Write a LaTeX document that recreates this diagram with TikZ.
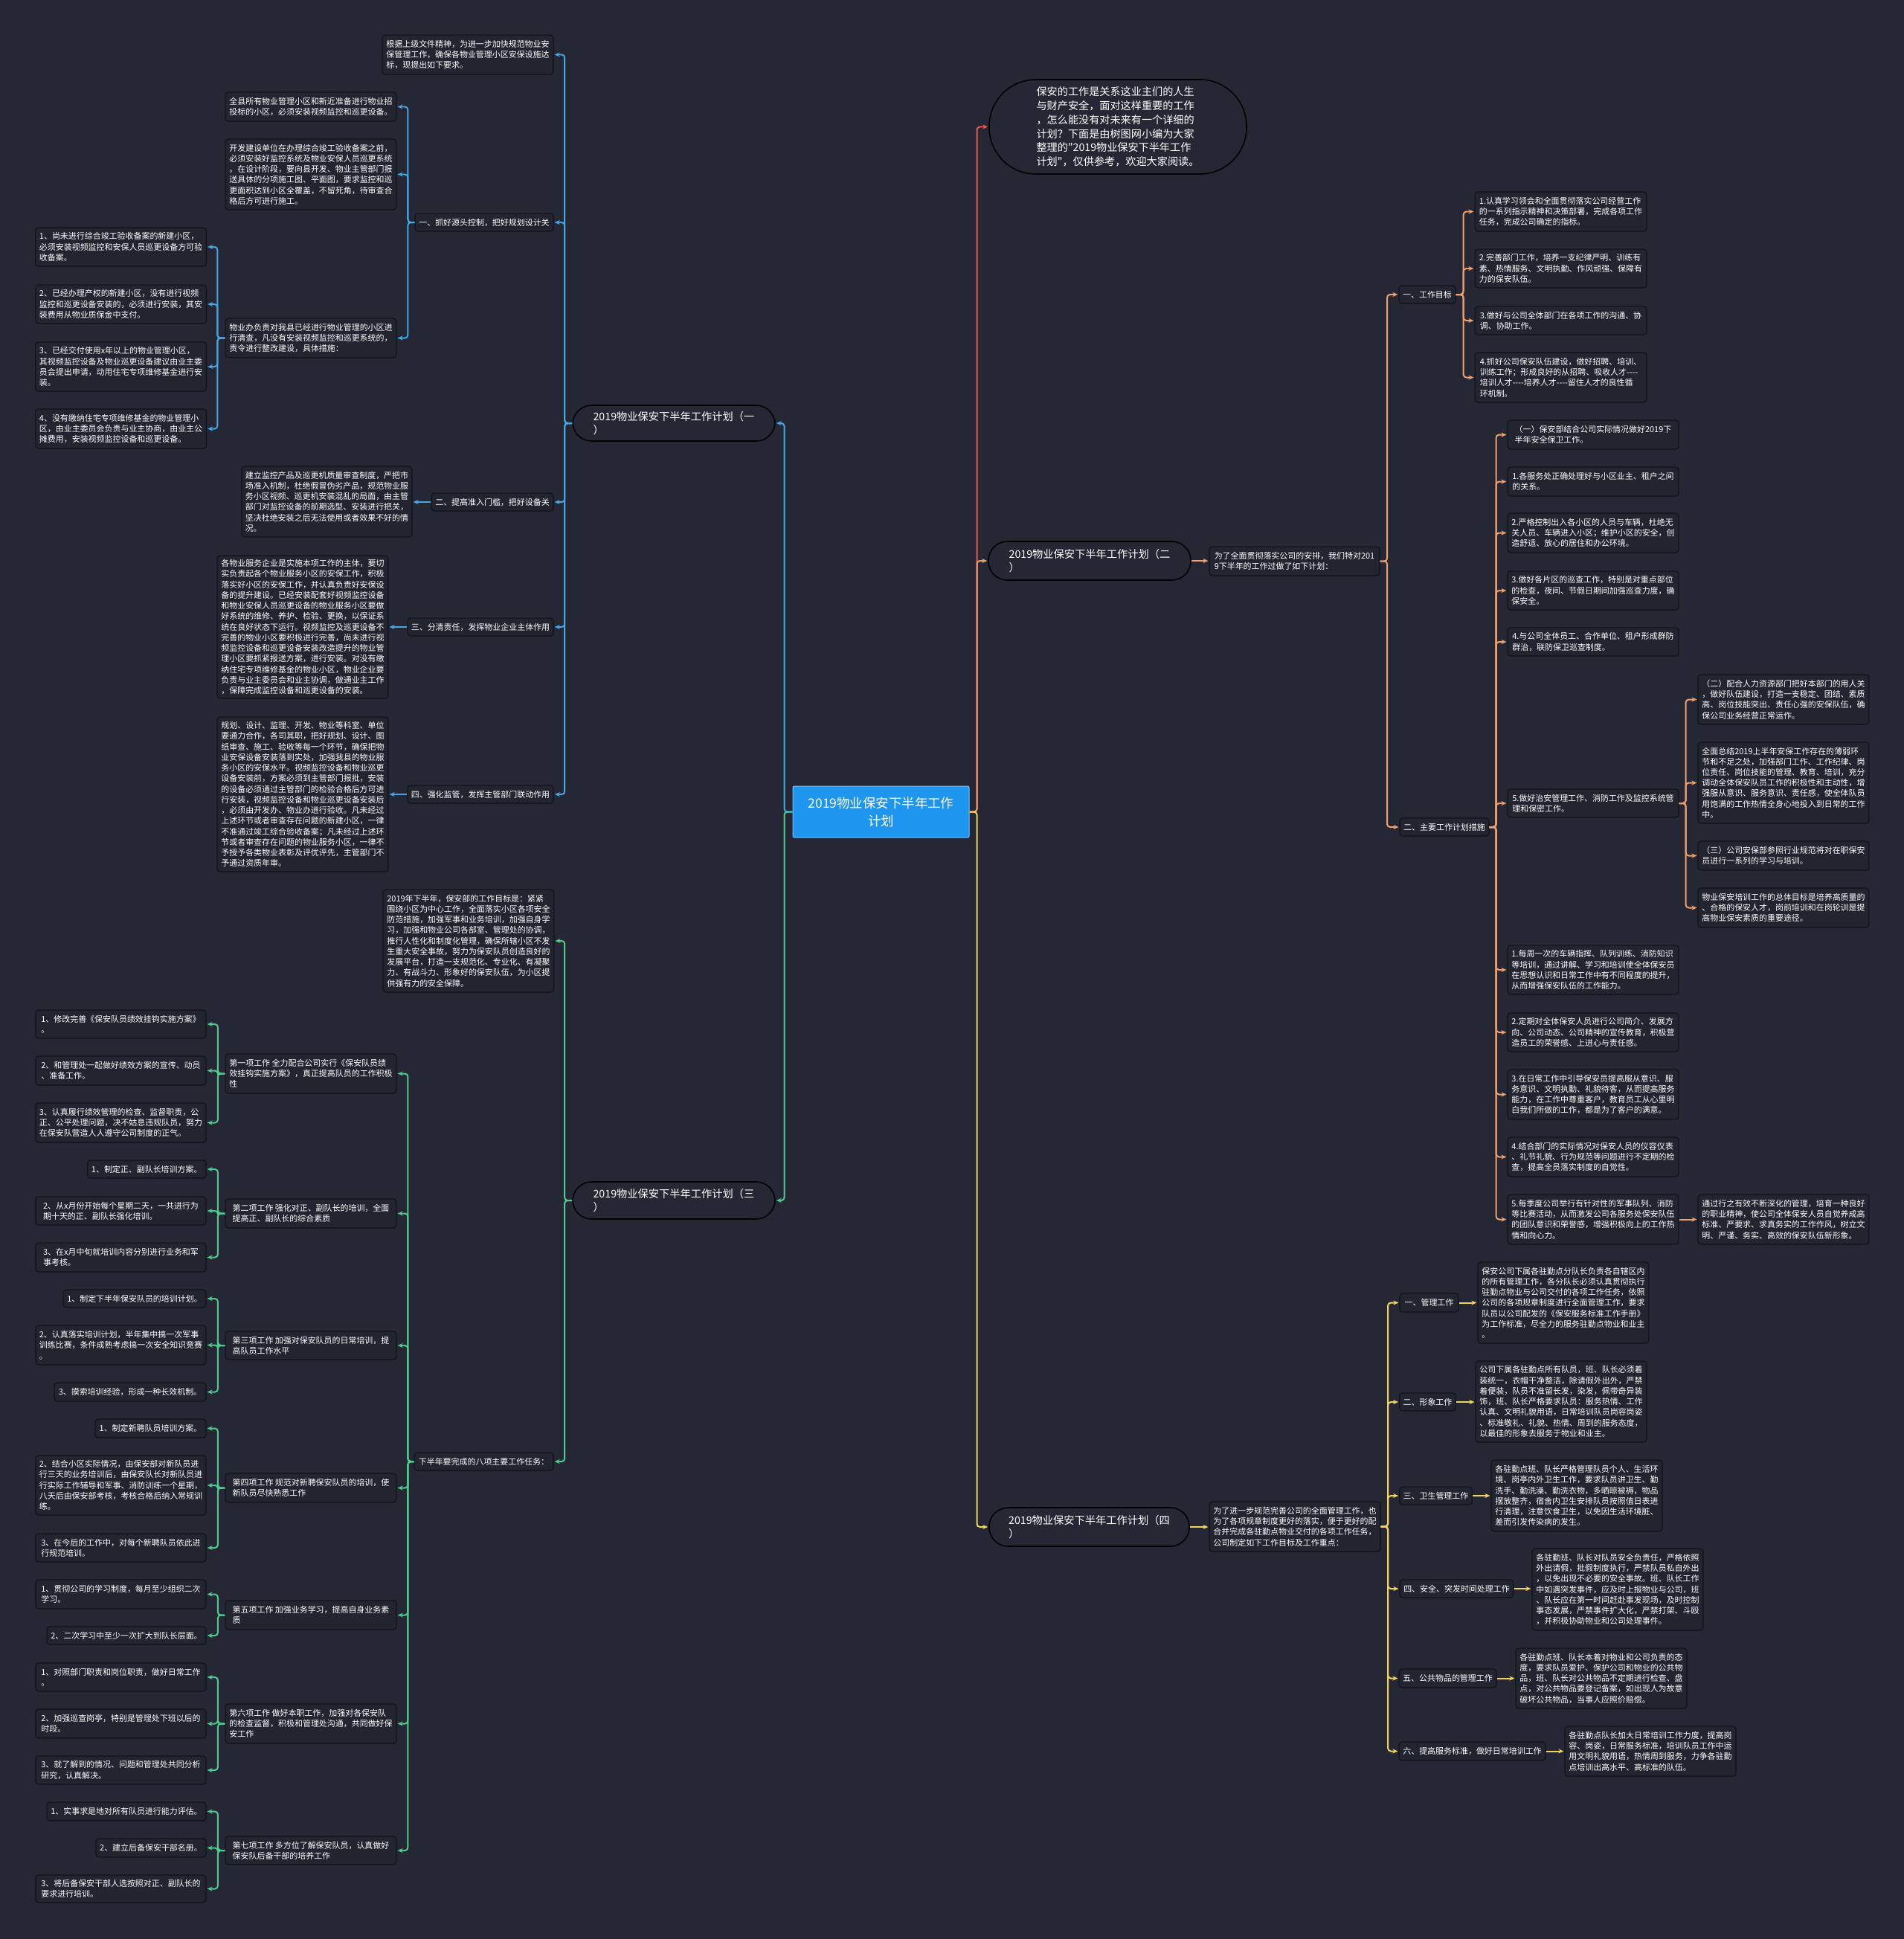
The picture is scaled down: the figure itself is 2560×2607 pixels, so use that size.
\documentclass[tikz,border=0pt]{standalone}
\usepackage{fontspec}
\setmainfont{Noto Sans CJK SC}[Ligatures=TeXOff]
\usetikzlibrary{arrows.meta}
\definecolor{bgc}{HTML}{252834}
\definecolor{boxfill}{HTML}{22252F}
\definecolor{boxline}{HTML}{111318}
\definecolor{cblue}{HTML}{45A8E6}
\definecolor{cgreen}{HTML}{4FCB8E}
\definecolor{corange}{HTML}{F0A06A}
\definecolor{cyellow}{HTML}{F2D35B}
\definecolor{cred}{HTML}{E8584F}
\definecolor{cmain}{HTML}{1E96F0}
\newcommand\bx[7][box]{%
  \pgfmathsetmacro\mmW{#5-#3}\pgfmathsetmacro\mmH{#6-#4}%
  \pgfmathsetmacro\mmX{(#3+#5)/2}\pgfmathsetmacro\mmY{(#4+#6)/2}%
  \node[#1,minimum width=\mmW bp,minimum height=\mmH bp] (#2) at (\mmX,\mmY) {#7};}
\begin{document}
\begin{tikzpicture}[x=1bp,y=-1bp,
  box/.style={draw=boxline,fill=boxfill,rounded corners=4pt,line width=1.2pt,text=white,
    font=\fontsize{11}{14.3}\selectfont,align=left,inner xsep=5pt,inner ysep=3pt},
  branch/.style={draw=black,fill=bgc,rounded corners=25.5pt,line width=1.6pt,text=white,
    font=\fontsize{14.3}{18.5}\selectfont,align=left,inner xsep=20pt,inner ysep=3pt},
  introbox/.style={branch,rounded corners=63pt,font=\fontsize{14.2}{18.8}\selectfont},
  mainbox/.style={draw=cmain!60!white,fill=cmain,rounded corners=2pt,line width=1pt,text=white,
    font=\fontsize{17.5}{24}\selectfont,align=center},
  conn/.style={line width=2pt,rounded corners=4pt,-{Stealth[length=7pt,width=6pt]},shorten >=1pt}]
\useasboundingbox (0,0) rectangle (2560,2607);
\fill[bgc] (-10,-10) rectangle (2570,2617);

% ---------- centre ----------
\bx[mainbox]{ctr}{1066}{1057}{1303}{1126}{2019物业保安下半年工作\\计划}

% ---------- branch 1 ----------
\bx[branch]{br1}{770}{545}{1042}{593}{2019物业保安下半年工作计划（一\\）}
\bx{T0}{514}{47}{744}{100}{根据上级文件精神，为进一步加快规范物业安\\保管理工作，确保各物业管理小区安保设施达\\标，现提出如下要求。}
\bx{A1}{558}{287}{744}{311}{一、抓好源头控制，把好规划设计关}
\bx{A1a}{303}{124}{533}{163}{全县所有物业管理小区和新近准备进行物业招\\投标的小区，必须安装视频监控和巡更设备。}
\bx{A1b}{303}{187}{533}{282}{开发建设单位在办理综合竣工验收备案之前，\\必须安装好监控系统及物业安保人员巡更系统\\。在设计阶段，要向县开发、物业主管部门报\\送具体的分项施工图、平面图，要求监控和巡\\更面积达到小区全覆盖，不留死角，待审查合\\格后方可进行施工。}
\bx{A1c}{303}{428}{533}{481}{物业办负责对我县已经进行物业管理的小区进\\行清查，凡没有安装视频监控和巡更系统的，\\责令进行整改建设，具体措施：}
\bx{L1}{47.6}{306}{277.5}{358}{1、尚未进行综合竣工验收备案的新建小区，\\必须安装视频监控和安保人员巡更设备方可验\\收备案。}
\bx{L2}{47.6}{383}{277.5}{435}{2、已经办理产权的新建小区，没有进行视频\\监控和巡更设备安装的，必须进行安装，其安\\装费用从物业质保金中支付。}
\bx{L3}{47.6}{460}{277.5}{526}{3、已经交付使用x年以上的物业管理小区，\\其视频监控设备及物业巡更设备建议由业主委\\员会提出申请，动用住宅专项维修基金进行安\\装。}
\bx{L4}{47.6}{550}{277.5}{603}{4、没有缴纳住宅专项维修基金的物业管理小\\区，由业主委员会负责与业主协商，由业主公\\摊费用，安装视频监控设备和巡更设备。}
\bx{A2}{580}{663}{744}{687}{二、提高准入门槛，把好设备关}
\bx{A2a}{325}{627}{554}{722}{建立监控产品及巡更机质量审查制度，严把市\\场准入机制，杜绝假冒伪劣产品，规范物业服\\务小区视频、巡更机安装混乱的局面，由主管\\部门对监控设备的前期选型、安装进行把关，\\坚决杜绝安装之后无法使用或者效果不好的情\\况。}
\bx{A3}{548}{831}{744}{855}{三、分清责任，发挥物业企业主体作用}
\bx{A3a}{292}{747}{522}{939}{各物业服务企业是实施本项工作的主体，要切\\实负责起各个物业服务小区的安保工作，积极\\落实好小区的安保工作，并认真负责好安保设\\备的提升建设。已经安装配套好视频监控设备\\和物业安保人员巡更设备的物业服务小区要做\\好系统的维修、养护、检验、更换，以保证系\\统在良好状态下运行。视频监控及巡更设备不\\完善的物业小区要积极进行完善，尚未进行视\\频监控设备和巡更设备安装改造提升的物业管\\理小区要抓紧报送方案，进行安装。对没有缴\\纳住宅专项维修基金的物业小区，物业企业要\\负责与业主委员会和业主协调，做通业主工作\\，保障完成监控设备和巡更设备的安装。}
\bx{A4}{548}{1056}{744}{1080}{四、强化监管，发挥主管部门联动作用}
\bx{A4a}{292}{964}{522}{1172}{规划、设计、监理、开发、物业等科室、单位\\要通力合作，各司其职，把好规划、设计、图\\纸审查、施工、验收等每一个环节，确保把物\\业安保设备安装落到实处，加强我县的物业服\\务小区的安保水平。视频监控设备和物业巡更\\设备安装前，方案必须到主管部门报批，安装\\的设备必须通过主管部门的检验合格后方可进\\行安装，视频监控设备和物业巡更设备安装后\\，必须由开发办、物业办进行验收。凡未经过\\上述环节或者审查存在问题的新建小区，一律\\不准通过竣工综合验收备案；凡未经过上述环\\节或者审查存在问题的物业服务小区，一律不\\予授予各类物业表彰及评优评先，主管部门不\\予通过资质年审。}

% ---------- branch 3 ----------
\bx[branch]{br3}{770}{1589}{1042}{1639}{2019物业保安下半年工作计划（三\\）}
\bx{B0}{515}{1196}{745}{1334}{2019年下半年，保安部的工作目标是：紧紧\\围绕小区为中心工作，全面落实小区各项安全\\防范措施，加强军事和业务培训，加强自身学\\习，加强和物业公司各部室、管理处的协调，\\推行人性化和制度化管理，确保所辖小区不发\\生重大安全事故，努力为保安队员创造良好的\\发展平台，打造一支规范化、专业化、有凝聚\\力、有战斗力、形象好的保安队伍，为小区提\\供强有力的安全保障。}
\bx{BB}{557}{1953}{744}{1977}{下半年要完成的八项主要工作任务：}
\bx{B1}{303}{1417}{533}{1470}{第一项工作 全力配合公司实行《保安队员绩\\效挂钩实施方案》，真正提高队员的工作积极\\性}
\bx{B1a}{48}{1358}{277}{1396}{1、修改完善《保安队员绩效挂钩实施方案》\\。}
\bx{B1b}{48}{1420}{277}{1459}{2、和管理处一起做好绩效方案的宣传、动员\\、准备工作。}
\bx{B1c}{48}{1483}{277}{1536}{3、认真履行绩效管理的检查、监督职责，公\\正、公平处理问题，决不姑息违规队员，努力\\在保安队营造人人遵守公司制度的正气。}
\bx{B2}{303}{1612}{533}{1651}{第二项工作 强化对正、副队长的培训，全面\\提高正、副队长的综合素质}
\bx{B2a}{117.5}{1560}{277}{1584}{1、制定正、副队长培训方案。}
\bx{B2b}{48}{1609}{277}{1647}{2、从x月份开始每个星期二天，一共进行为\\期十天的正、副队长强化培训。}
\bx{B2c}{48}{1671}{277}{1710}{3、在x月中旬就培训内容分别进行业务和军\\事考核。}
\bx{B3}{303}{1790}{533}{1828}{第三项工作 加强对保安队员的日常培训，提\\高队员工作水平}
\bx{B3a}{85}{1734}{277}{1758}{1、制定下半年保安队员的培训计划。}
\bx{B3b}{48}{1782}{277}{1835}{2、认真落实培训计划，半年集中搞一次军事\\训练比赛，条件成熟考虑搞一次安全知识竞赛\\。}
\bx{B3c}{73}{1859}{277}{1884}{3、摸索培训经验，形成一种长效机制。}
\bx{B4}{303}{1981}{533}{2020}{第四项工作 规范对新聘保安队员的培训，使\\新队员尽快熟悉工作}
\bx{B4a}{128}{1908}{277}{1933}{1、制定新聘队员培训方案。}
\bx{B4b}{48}{1957}{277}{2037}{2、结合小区实际情况，由保安部对新队员进\\行三天的业务培训后，由保安队长对新队员进\\行实际工作辅导和军事、消防训练一个星期，\\八天后由保安部考核，考核合格后纳入常规训\\练。}
\bx{B4c}{48}{2062}{277}{2100}{3、在今后的工作中，对每个新聘队员依此进\\行规范培训。}
\bx{B5}{303}{2152}{533}{2191}{第五项工作 加强业务学习，提高自身业务素\\质}
\bx{B5a}{48}{2124}{277}{2163}{1、贯彻公司的学习制度，每月至少组织二次\\学习。}
\bx{B5b}{63}{2187}{277}{2211}{2、二次学习中至少一次扩大到队长层面。}
\bx{B6}{303}{2291}{533}{2344}{第六项工作 做好本职工作，加强对各保安队\\的检查监督，积极和管理处沟通，共同做好保\\安工作}
\bx{B6a}{48}{2236}{277}{2274}{1、对照部门职责和岗位职责，做好日常工作\\。}
\bx{B6b}{48}{2298}{277}{2337}{2、加强巡查岗亭，特别是管理处下班以后的\\时段。}
\bx{B6c}{48}{2361}{277}{2399}{3、就了解到的情况、问题和管理处共同分析\\研究，认真解决。}
\bx{B7}{303}{2469}{533}{2507}{第七项工作 多方位了解保安队员，认真做好\\保安队后备干部的培养工作}
\bx{B7a}{63}{2423}{277}{2448}{1、实事求是地对所有队员进行能力评估。}
\bx{B7b}{129}{2472}{277}{2497}{2、建立后备保安干部名册。}
\bx{B7c}{48}{2521}{277}{2558}{3、将后备保安干部人选按照对正、副队长的\\要求进行培训。}

% ---------- intro ----------
\bx[introbox]{intro}{1330}{107}{1676}{234}{保安的工作是关系这业主们的人生\\与财产安全，面对这样重要的工作\\，怎么能没有对未来有一个详细的\\计划？下面是由树图网小编为大家\\整理的"2019物业保安下半年工作\\计划"，仅供参考，欢迎大家阅读。}

% ---------- branch 2 ----------
\bx[branch]{br2}{1329}{728}{1601}{780}{2019物业保安下半年工作计划（二\\）}
\bx{C0}{1626}{735}{1855}{774}{为了全面贯彻落实公司的安排，我们特对201\\9下半年的工作过做了如下计划：}
\bx{C1}{1881}{384}{1957}{408}{一、工作目标}
\bx{C1a}{1983}{258}{2214}{311}{1.认真学习领会和全面贯彻落实公司经营工作\\的一系列指示精神和决策部署，完成各项工作\\任务，完成公司确定的指标。}
\bx{C1b}{1983}{335}{2214}{387}{2.完善部门工作，培养一支纪律严明、训练有\\素、热情服务、文明执勤、作风顽强、保障有\\力的保安队伍。}
\bx{C1c}{1983}{412}{2214}{450}{3.做好与公司全体部门在各项工作的沟通、协\\调、协助工作。}
\bx{C1d}{1983}{474}{2214}{541}{4.抓好公司保安队伍建设，做好招聘、培训、\\训练工作；形成良好的从招聘、吸收人才-{}-{}-{}-\\培训人才-{}-{}-{}-培养人才-{}-{}-{}-留住人才的良性循\\环机制。}
\bx{C2}{1882}{1100}{2002}{1124}{二、主要工作计划措施}
\bx{C2a}{2027}{565}{2257}{604}{（一）保安部结合公司实际情况做好2019下\\半年安全保卫工作。}
\bx{C2b}{2027}{628}{2257}{667}{1.各服务处正确处理好与小区业主、租户之间\\的关系。}
\bx{C2c}{2027}{690}{2257}{743}{2.严格控制出入各小区的人员与车辆，杜绝无\\关人员、车辆进入小区；维护小区的安全，创\\造舒适、放心的居住和办公环境。}
\bx{C2d}{2027}{768}{2257}{820}{3.做好各片区的巡查工作，特别是对重点部位\\的检查，夜间、节假日期间加强巡查力度，确\\保安全。}
\bx{C2e}{2027}{844}{2257}{882}{4.与公司全体员工、合作单位、租户形成群防\\群治，联防保卫巡查制度。}
\bx{C2f}{2027}{1061}{2257}{1099}{5.做好治安管理工作、消防工作及监控系统管\\理和保密工作。}
\bx{C2f1}{2283}{907}{2513}{974}{（二）配合人力资源部门把好本部门的用人关\\，做好队伍建设，打造一支稳定、团结、素质\\高、岗位技能突出、责任心强的安保队伍，确\\保公司业务经营正常运作。}
\bx{C2f2}{2283}{998}{2513}{1107}{全面总结2019上半年安保工作存在的薄弱环\\节和不足之处，加强部门工作、工作纪律、岗\\位责任、岗位技能的管理、教育、培训，充分\\调动全体保安队员工作的积极性和主动性，增\\强服从意识、服务意识、责任感，使全体队员\\用饱满的工作热情全身心地投入到日常的工作\\中。}
\bx{C2f3}{2283}{1131}{2513}{1170}{（三）公司安保部参照行业规范将对在职保安\\员进行一系列的学习与培训。}
\bx{C2f4}{2283}{1194}{2513}{1247}{物业保安培训工作的总体目标是培养高质量的\\、合格的保安人才，岗前培训和在岗轮训是提\\高物业保安素质的重要途径。}
\bx{C2g}{2027}{1271}{2257}{1337}{1.每周一次的车辆指挥、队列训练、消防知识\\等培训，通过讲解、学习和培训使全体保安员\\在思想认识和日常工作中有不同程度的提升，\\从而增强保安队伍的工作能力。}
\bx{C2h}{2027}{1362}{2257}{1414}{2.定期对全体保安人员进行公司简介、发展方\\向、公司动态、公司精神的宣传教育，积极营\\造员工的荣誉感、上进心与责任感。}
\bx{C2i}{2027}{1438}{2257}{1505}{3.在日常工作中引导保安员提高服从意识、服\\务意识、文明执勤、礼貌待客，从而提高服务\\能力，在工作中尊重客户，教育员工从心里明\\白我们所做的工作，都是为了客户的满意。}
\bx{C2j}{2027}{1529}{2257}{1582}{4.结合部门的实际情况对保安人员的仪容仪表\\、礼节礼貌、行为规范等问题进行不定期的检\\查，提高全员落实制度的自觉性。}
\bx{C2k}{2027}{1606}{2257}{1673}{5.每季度公司举行有针对性的军事队列、消防\\等比赛活动，从而激发公司各服务处保安队伍\\的团队意识和荣誉感，增强积极向上的工作热\\情和向心力。}
\bx{C2k1}{2283}{1606}{2513}{1673}{通过行之有效不断深化的管理，培育一种良好\\的职业精神，使公司全体保安人员自觉养成高\\标准、严要求、求真务实的工作作风，树立文\\明、严谨、务实、高效的保安队伍新形象。}

% ---------- branch 4 ----------
\bx[branch]{br4}{1330}{2027}{1599}{2079}{2019物业保安下半年工作计划（四\\）}
\bx{D0}{1626}{2019}{1856}{2086}{为了进一步规范完善公司的全面管理工作，也\\为了各项规章制度更好的落实，便于更好的配\\合并完成各驻勤点物业交付的各项工作任务，\\公司制定如下工作目标及工作重点：}
\bx{D1}{1882}{1739}{1961}{1764}{一、管理工作}
\bx{D1a}{1987}{1697}{2217}{1806}{保安公司下属各驻勤点分队长负责各自辖区内\\的所有管理工作，各分队长必须认真贯彻执行\\驻勤点物业与公司交付的各项工作任务，依照\\公司的各项规章制度进行全面管理工作，要求\\队员以公司配发的《保安服务标准工作手册》\\为工作标准，尽全力的服务驻勤点物业和业主\\。}
\bx{D2}{1882}{1873}{1957}{1897}{二、形象工作}
\bx{D2a}{1984}{1830}{2214}{1939}{公司下属各驻勤点所有队员，班、队长必须着\\装统一，衣帽干净整洁，除请假外出外，严禁\\着便装，队员不准留长发，染发，佩带奇异装\\饰，班、队长严格要求队员：服务热情、工作\\认真、文明礼貌用语，日常培训队员岗容岗姿\\、标准敬礼、礼貌、热情、周到的服务态度，\\以最佳的形象去服务于物业和业主。}
\bx{D3}{1882}{1999}{1979}{2023}{三、卫生管理工作}
\bx{D3a}{2005}{1963}{2235}{2059}{各驻勤点班、队长严格管理队员个人、生活环\\境、岗亭内外卫生工作，要求队员讲卫生、勤\\洗手、勤洗澡、勤洗衣物，多晒晾被褥，物品\\摆放整齐，宿舍内卫生安排队员按照值日表进\\行清理，注意饮食卫生，以免因生活环境脏、\\差而引发传染病的发生。}
\bx{D4}{1882}{2124}{2035}{2148}{四、安全、突发时间处理工作}
\bx{D4a}{2060}{2082}{2290}{2192}{各驻勤班、队长对队员安全负责任，严格依照\\外出请假，批假制度执行，严禁队员私自外出\\，以免出现不必要的安全事故。班、队长工作\\中如遇突发事件，应及时上报物业与公司，班\\、队长应在第一时间赶赴事发现场，及时控制\\事态发展，严禁事件扩大化，严禁打架、斗殴\\，并积极协助物业和公司处理事件。}
\bx{D5}{1881}{2244}{2012}{2269}{五、公共物品的管理工作}
\bx{D5a}{2038}{2216}{2268}{2297}{各驻勤点班、队长本着对物业和公司负责的态\\度，要求队员爱护、保护公司和物业的公共物\\品，班、队长对公共物品不定期进行检查、盘\\点，对公共物品要登记备案，如出现人为故意\\破坏公共物品，当事人应照价赔偿。}
\bx{D6}{1881}{2342}{2078}{2367}{六、提高服务标准，做好日常培训工作}
\bx{D6a}{2104}{2321}{2334}{2388}{各驻勤点队长加大日常培训工作力度，提高岗\\容、岗姿，日常服务标准，培训队员工作中运\\用文明礼貌用语，热情周到服务，力争各驻勤\\点培训出高水平、高标准的队伍。}

% ---------- connectors ----------
\draw[conn,cblue] (ctr.west) -- ++(-11,0) |- (br1.east);
\draw[conn,cgreen] (ctr.west) -- ++(-11,0) |- (br3.east);
\draw[conn,cred] (ctr.east) -- ++(10,0) |- (intro.west);
\draw[conn,corange] (ctr.east) -- ++(10,0) |- (br2.west);
\draw[conn,cyellow] (ctr.east) -- ++(10,0) |- (br4.west);

\foreach \c in {T0,A1,A2,A3,A4} \draw[conn,cblue] (br1.west) -- ++(-10,0) |- (\c.east);
\foreach \c in {A1a,A1b,A1c} \draw[conn,cblue] (A1.west) -- ++(-9,0) |- (\c.east);
\foreach \c in {L1,L2,L3,L4} \draw[conn,cblue] (A1c.west) -- ++(-10,0) |- (\c.east);
\foreach \p/\c in {A2/A2a,A3/A3a,A4/A4a} \draw[conn,cblue] (\p.west) -- (\p.west -| \c.east);

\foreach \c in {B0,BB} \draw[conn,cgreen] (br3.west) -- ++(-10,0) |- (\c.east);
\foreach \c in {B1,B2,B3,B4,B5,B6,B7} \draw[conn,cgreen] (BB.west) -- ++(-8,0) |- (\c.east);
\foreach \p/\c in {B1/B1a,B1/B1b,B1/B1c,B2/B2a,B2/B2b,B2/B2c,B3/B3a,B3/B3b,B3/B3c,B4/B4a,B4/B4b,B4/B4c,B5/B5a,B5/B5b,B6/B6a,B6/B6b,B6/B6c,B7/B7a,B7/B7b,B7/B7c}
  \draw[conn,cgreen] (\p.west) -- ++(-9.5,0) |- (\c.east);

\draw[conn,corange] (br2.east) -- (br2.east -| C0.west);
\foreach \c in {C1,C2} \draw[conn,corange] (C0.east) -- ++(9.5,0) |- (\c.west);
\foreach \c in {C1a,C1b,C1c,C1d} \draw[conn,corange] (C1.east) -- ++(10,0) |- (\c.west);
\foreach \c in {C2a,C2b,C2c,C2d,C2e,C2f,C2g,C2h,C2i,C2j,C2k} \draw[conn,corange] (C2.east) -- ++(9,0) |- (\c.west);
\foreach \c in {C2f1,C2f2,C2f3,C2f4} \draw[conn,corange] (C2f.east) -- ++(9,0) |- (\c.west);
\draw[conn,corange] (C2k.east) -- (C2k.east -| C2k1.west);

\draw[conn,cyellow] (br4.east) -- (br4.east -| D0.west);
\foreach \c in {D1,D2,D3,D4,D5,D6} \draw[conn,cyellow] (D0.east) -- ++(9.5,0) |- (\c.west);
\foreach \p/\c in {D1/D1a,D2/D2a,D3/D3a,D4/D4a,D5/D5a,D6/D6a} \draw[conn,cyellow] (\p.east) -- (\p.east -| \c.west);
\end{tikzpicture}
\end{document}
